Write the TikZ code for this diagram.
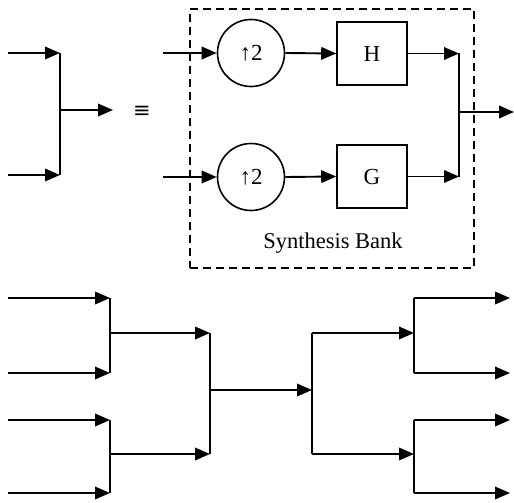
\documentclass[tikz,border=0pt]{standalone}
\usepackage{fontspec}
\setmainfont{Liberation Serif}
\newfontfamily\symfont{DejaVu Sans}
\usetikzlibrary{arrows.meta}
\tikzset{
  wire/.style={line width=1.9pt},
  arr/.style={wire,-{Triangle[length=15pt,width=12.5pt]}},
  upnode/.style={circle,draw,line width=1.6pt,minimum size=67pt,inner sep=0pt,font=\fontsize{23}{26}\selectfont},
  filt/.style={rectangle,draw,line width=1.6pt,minimum width=70pt,minimum height=63pt,inner sep=0pt,font=\fontsize{23}{24}\selectfont},
  bankbox/.style={draw,line width=1.5pt,dash pattern=on 8pt off 5pt},
  lbl/.style={font=\fontsize{22.5}{24}\selectfont,inner sep=0pt}
}
\begin{document}
\begin{tikzpicture}[x=1pt,y=-1pt]
\useasboundingbox (0,0) rectangle (514,503);
% ---- top left combiner ----
\coordinate (a1) at (8,53);
\coordinate (a2) at (8,175);
\coordinate (b1) at (60,53);
\coordinate (b2) at (60,175);
\coordinate (bm) at (60,110);
\coordinate (bo) at (113,110);
\draw[arr] (a1) -- (b1);
\draw[arr] (a2) -- (b2);
\draw[wire] (b1) -- (b2);
\draw[arr] (bm) -- (bo);
\node[inner sep=0pt,font=\symfont\fontsize{21}{24}\selectfont] (eq) at (142,112) {≡};
% ---- synthesis bank ----
\node[bankbox,minimum width=284pt,minimum height=259pt,inner sep=0pt] (bank) at (332,138.5) {};
\node[upnode] (u1) at (251,53) {↑2};
\node[upnode] (u2) at (251,177) {↑2};
\node[filt] (H) at (372,53.5) {H};
\node[filt] (G) at (372,176.5) {G};
\coordinate (s1) at (163,53);
\coordinate (s2) at (163,177);
\draw[arr] (s1) -- (u1.west);
\draw[arr] (s2) -- (u2.west);
\draw[arr] (u1.east) -- (H.west);
\draw[arr] (u2.east) -- (G.west);
\coordinate (h1) at (459,53.5);
\coordinate (g1) at (459,176.5);
\coordinate (hm) at (459,112);
\coordinate (ho) at (514,112);
\draw[arr] (H.east) -- (h1);
\draw[arr] (G.east) -- (g1);
\draw[wire] (h1) -- (g1);
\draw[arr] (hm) -- (ho);
\node[lbl] (sb) at (333,243) {Synthesis Bank};
% ---- bottom tree ----
\coordinate (i1) at (8,298);
\coordinate (i2) at (8,373);
\coordinate (i3) at (8,420);
\coordinate (i4) at (8,493);
\coordinate (j1) at (110,298);
\coordinate (j2) at (110,373);
\coordinate (j3) at (110,420);
\coordinate (j4) at (110,493);
\coordinate (k1) at (110,333);
\coordinate (k2) at (110,454);
\coordinate (l1) at (210,333);
\coordinate (l2) at (210,454);
\coordinate (lm) at (210,390);
\coordinate (m) at (312,390);
\coordinate (m1) at (312,333);
\coordinate (m2) at (312,454);
\coordinate (n1) at (414,333);
\coordinate (n2) at (414,454);
\coordinate (p1) at (414,298);
\coordinate (p2) at (414,373);
\coordinate (p3) at (414,420);
\coordinate (p4) at (414,493);
\coordinate (q1) at (510,298);
\coordinate (q2) at (510,373);
\coordinate (q3) at (510,420);
\coordinate (q4) at (510,493);
\draw[arr] (i1) -- (j1);
\draw[arr] (i2) -- (j2);
\draw[arr] (i3) -- (j3);
\draw[arr] (i4) -- (j4);
\draw[wire] (j1) -- (j2);
\draw[wire] (j3) -- (j4);
\draw[arr] (k1) -- (l1);
\draw[arr] (k2) -- (l2);
\draw[wire] (l1) -- (l2);
\draw[arr] (lm) -- (m);
\draw[wire] (m1) -- (m2);
\draw[arr] (m1) -- (n1);
\draw[arr] (m2) -- (n2);
\draw[wire] (p1) -- (p2);
\draw[wire] (p3) -- (p4);
\draw[arr] (p1) -- (q1);
\draw[arr] (p2) -- (q2);
\draw[arr] (p3) -- (q3);
\draw[arr] (p4) -- (q4);
\end{tikzpicture}
\end{document}
